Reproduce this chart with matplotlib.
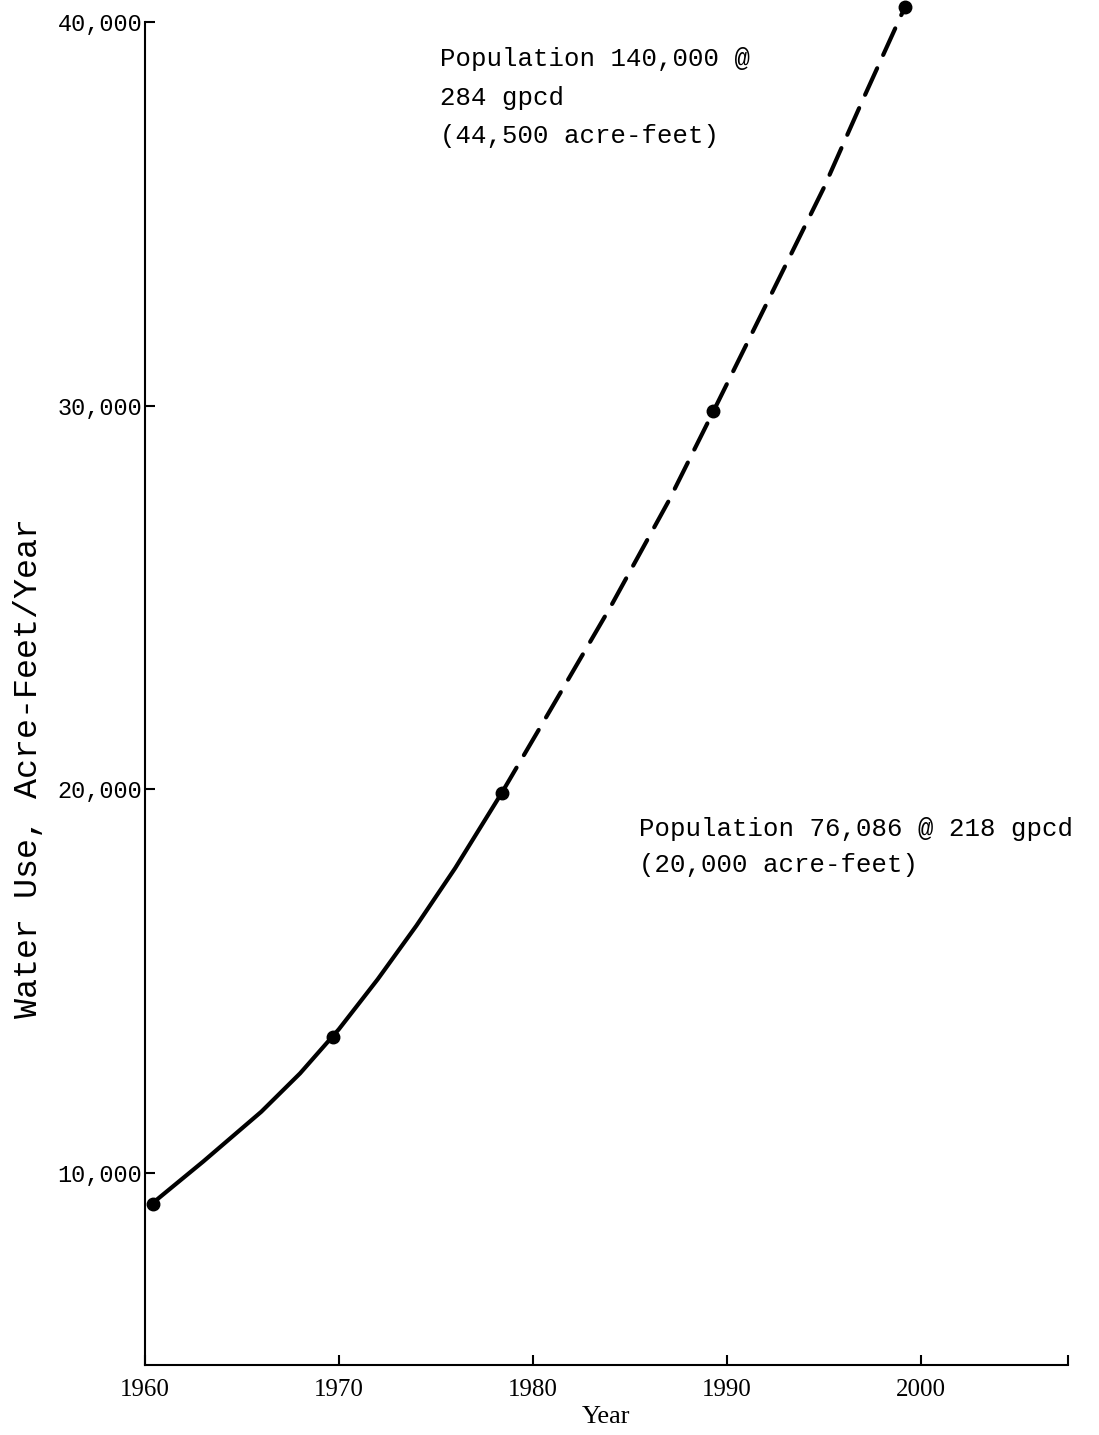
import matplotlib.pyplot as plt

# points marked on the chart (year, acre-feet/year)
point_years = [1960.4, 1969.7, 1978.4, 1989.3, 1999.2]
point_values = [9200, 13550, 19900, 29850, 40400]

# solid (historical) curve
hist_years = [1960.4, 1963, 1966, 1968, 1970, 1972, 1974, 1976, 1978.4]
hist_values = [9220, 10300, 11600, 12600, 13750, 15050, 16450, 17950, 19910]

# dashed (projected) curve
proj_years = [1978.4, 1981, 1984, 1987, 1989.3, 1992, 1995, 1997, 1999.2]
proj_values = [19910, 22150, 24750, 27510, 29840, 32600, 35670, 37950, 40400]

x_ticks = [1960, 1970, 1980, 1990, 2000]
y_ticks = [10000, 20000, 30000, 40000]
y_labels = ['10,000', '20,000', '30,000', '40,000']

note_2000 = 'Population 140,000 @\n284 gpcd\n(44,500 acre-feet)'
note_1980 = 'Population 76,086 @ 218 gpcd\n(20,000 acre-feet)'

mono = 'Liberation Mono'
serif = 'Liberation Serif'

fig = plt.figure(figsize=(10.99, 14.35), dpi=100)
ax = fig.add_axes([0.1319, 0.0488, 0.8399, 0.9359])

ax.plot(hist_years, hist_values, color='black', lw=3, solid_capstyle='round',
        solid_joinstyle='round', clip_on=False)
ax.plot(proj_years, proj_values, color='black', lw=3, dashes=(7, 3.5),
        dash_capstyle='round', clip_on=False)
ax.plot(point_years, point_values, 'o', color='black', ms=9, clip_on=False)

ax.set_xlim(1960, 2007.6)
ax.set_ylim(5000, 40000)

for s in ['top', 'right']:
    ax.spines[s].set_visible(False)
for s in ['left', 'bottom']:
    ax.spines[s].set_linewidth(1.5)

ax.set_xticks(x_ticks)
ax.set_xticks([2007.6], minor=True)
ax.set_xticklabels([str(x) for x in x_ticks], fontfamily=serif, fontsize=18)
ax.set_yticks(y_ticks)
ax.set_yticklabels(y_labels, fontfamily=mono, fontsize=17)
ax.tick_params(axis='x', which='both', direction='in', length=7, width=1.5, pad=10)
ax.tick_params(axis='y', direction='in', length=7, width=1.5, pad=2)

ax.set_xlabel('Year', fontfamily=serif, fontsize=19, labelpad=4)
ax.set_ylabel('Water Use, Acre-Feet/Year', fontfamily=mono, fontsize=24)
ax.yaxis.set_label_coords(-0.109, 0.4445)

ax.text(1975.2, 38030, note_2000, fontfamily=mono, fontsize=18.5,
        ha='left', va='center', linespacing=1.75)
ax.text(1985.5, 18500, note_1980, fontfamily=mono, fontsize=18.5,
        ha='left', va='center', linespacing=1.65)

fig.savefig('out.png', dpi=100)
